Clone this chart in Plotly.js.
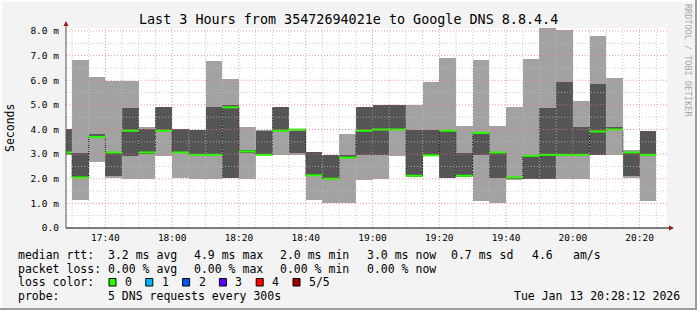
<!DOCTYPE html>
<html>
<head>
<meta charset="utf-8">
<script src="https://cdn.plot.ly/plotly-3.0.1.min.js"></script>
<style>html,body{margin:0;padding:0;background:#f3f3f3;}#chart{width:697px;height:310px;}</style>
</head>
<body>
<div id="chart"></div>
<script>
// ---- data (milliseconds) ----
const times = ["17:25","17:30","17:35","17:40","17:45","17:50","17:55",
  "18:00","18:05","18:10","18:15","18:20","18:25","18:30","18:35","18:40","18:45","18:50","18:55",
  "19:00","19:05","19:10","19:15","19:20","19:25","19:30","19:35","19:40","19:45","19:50","19:55",
  "20:00","20:05","20:10","20:15","20:20"];
const minRtt  = [2.97,1.12,2.70,2.05,2.00,2.00,2.93,2.04,2.00,2.00,2.04,2.00,2.97,2.97,2.97,1.12,1.00,1.00,1.93,2.00,2.93,2.09,2.95,2.05,2.09,1.08,1.00,1.93,2.00,2.00,2.00,2.00,2.97,2.97,2.05,1.08];
const lowRtt  = [3.00,2.05,3.69,2.12,2.93,3.00,3.95,3.07,2.97,2.97,2.04,3.04,2.97,3.95,3.04,2.14,2.00,2.85,2.97,2.97,4.00,2.09,2.95,2.05,2.09,2.97,2.05,2.00,2.00,2.00,2.97,2.97,2.97,3.99,2.12,2.97];
const medRtt  = [3.07,2.05,3.70,3.07,3.95,3.07,3.95,3.07,2.97,2.97,4.90,3.11,2.97,3.95,4.00,2.14,2.00,2.86,3.95,4.00,4.00,2.12,2.95,3.95,2.12,3.86,3.07,2.05,2.93,2.97,2.97,2.97,3.92,4.00,3.07,2.97];
const highRtt = [4.01,3.04,3.82,3.07,4.88,4.03,4.93,4.03,3.99,4.93,5.00,3.15,3.95,4.93,3.95,3.07,2.97,2.95,4.90,5.00,5.00,4.00,3.97,3.95,3.04,3.82,3.04,2.05,2.93,4.88,5.93,4.11,5.85,4.11,3.07,3.92];
const maxRtt  = [4.01,6.84,6.14,5.97,5.97,4.11,4.93,4.03,3.99,6.80,6.05,4.11,3.97,4.93,4.00,3.07,2.97,3.82,4.90,5.00,5.00,5.00,5.93,6.90,4.15,6.82,4.15,4.93,6.88,8.12,8.05,5.16,7.80,6.10,3.18,3.92];
const xTickLabels = ["17:40","18:00","18:20","18:40","19:00","19:20","19:40","20:00","20:20"];
const yTickVals = [0,1,2,3,4,5,6,7,8];
const yTickLabels = ["0.0","1.0 m","2.0 m","3.0 m","4.0 m","5.0 m","6.0 m","7.0 m","8.0 m"];
const rangeStart = "17:28:12", rangeEnd = "20:28:12";
const titleText = "Last 3 Hours from 35472694021e to Google DNS 8.8.4.4";
const rttStats = ["3.2 ms avg","4.9 ms max","2.0 ms min","3.0 ms now","0.7 ms sd","4.6","am/s"];
const lossStats = ["0.00 % avg","0.00 % max","0.00 % min","0.00 % now"];
const lossNames = ["0","1","2","3","4","5/5"];
const lossColors = ["#26ff00","#00b8ff","#0059ff","#5e00ff","#ff0000","#a00000"];
const probeText = "5 DNS requests every 300s";
const stampText = "Tue Jan 13 20:28:12 2026";

// ---- helpers ----
const STEP = 5*60*1000;
function ms(t){ const p=t.split(':').map(Number); return Date.UTC(2026,0,13,p[0],p[1],p[2]||0); }
const L=66, R=667, T=28, B=228, W=R-L, H=B-T;
const px = x => (x-L)/W, py = y => (B-y)/H;
const FONT = "DejaVu Sans Mono";
const yMax = 8.1218;

const xs = times.map(ms);
const light = {type:'bar', x:xs, base:minRtt, y:maxRtt.map((v,i)=>v-minRtt[i]), width:STEP, offset:0,
  marker:{color:'#a2a2a2', line:{width:0}}, hoverinfo:'skip'};
const dark = {type:'bar', x:xs, base:lowRtt, y:highRtt.map((v,i)=>v-lowRtt[i]), width:STEP, offset:0,
  marker:{color:'#555555', line:{width:0}}, hoverinfo:'skip'};
const stepX = xs.concat([xs[xs.length-1]+STEP]);
const stepY = medRtt.concat([medRtt[medRtt.length-1]]);
const joins = {type:'scatter', mode:'lines', x:stepX, y:stepY, line:{shape:'hv', color:'#000', width:1, dash:'1px,1px'}, hoverinfo:'skip'};
const gx=[], gy=[];
xs.forEach((x,i)=>{ gx.push(x, x+STEP, null); gy.push(medRtt[i], medRtt[i], null); });
const green = {type:'scatter', mode:'lines', x:gx, y:gy, line:{color:lossColors[0], width:2}, hoverinfo:'skip'};

// ---- grid + frame shapes ----
const shapes = [];
const x0 = ms(rangeStart), x1 = ms(rangeEnd);
for (let v=0.5; v<8.2; v+=0.5){
  const major = Math.abs(v-Math.round(v))<1e-9;
  shapes.push({type:'line', xref:'x', yref:'y', x0:x0, x1:x1, y0:v, y1:v, layer:'above',
    line:{color: major?'rgba(235,120,120,0.75)':'rgba(190,190,190,0.8)', width:1, dash:'1px,2px'}});
}
const majorX = xTickLabels.map(ms);
stepX.forEach(x=>{
  if (x<=x0 || x>=x1) return;
  const major = majorX.indexOf(x)>=0;
  shapes.push({type:'line', xref:'x', yref:'y', x0:x, x1:x, y0:0, y1:yMax, layer:'above',
    line:{color: major?'rgba(235,120,120,0.75)':'rgba(190,190,190,0.8)', width:1, dash:'1px,2px'}});
});
// axes lines and arrows
shapes.push({type:'line', xref:'paper', yref:'paper', x0:px(66), x1:px(66), y0:py(228), y1:py(24), line:{color:'#555', width:1}});
shapes.push({type:'line', xref:'paper', yref:'paper', x0:px(66), x1:px(670), y0:py(228), y1:py(228), line:{color:'#000', width:1}});
shapes.push({type:'path', xref:'paper', yref:'paper', fillcolor:'#9a1a1a', line:{width:0},
  path:`M ${px(63.5)} ${py(26)} L ${px(68.5)} ${py(26)} L ${px(66)} ${py(21)} Z`});
shapes.push({type:'path', xref:'paper', yref:'paper', fillcolor:'#9a1a1a', line:{width:0},
  path:`M ${px(669)} ${py(225.5)} L ${px(669)} ${py(230.5)} L ${px(674)} ${py(228)} Z`});
// 3D frame
shapes.push({type:'rect', xref:'paper', yref:'paper', x0:px(0), x1:px(697), y0:py(0), y1:py(2), fillcolor:'#fdfdfd', line:{width:0}});
shapes.push({type:'rect', xref:'paper', yref:'paper', x0:px(0), x1:px(2), y0:py(0), y1:py(310), fillcolor:'#fdfdfd', line:{width:0}});
shapes.push({type:'rect', xref:'paper', yref:'paper', x0:px(0), x1:px(697), y0:py(308), y1:py(310), fillcolor:'#9c9c9c', line:{width:0}});
shapes.push({type:'rect', xref:'paper', yref:'paper', x0:px(695), x1:px(697), y0:py(0), y1:py(310), fillcolor:'#9c9c9c', line:{width:0}});

// ---- legend text ----
const ann = [];
function txt(text, x, y, opts){ ann.push(Object.assign({text:text, xref:'paper', yref:'paper', x:px(x), y:py(y), xanchor:'left', yanchor:'middle',
  showarrow:false, borderpad:0, font:{family:FONT, size:11.5, color:'#000'}}, opts||{})); }
txt(titleText, 348, 19, {xanchor:'center', font:{family:FONT, size:13.4, color:'#000'}});
txt("Seconds", 10, 128, {xanchor:'center', textangle:-90});
txt("RRDTOOL / TOBI OETIKER", 688, 60, {xanchor:'center', textangle:90, font:{family:FONT, size:8.5, color:'#a8a8a8'}});
const rowY = [255, 268.5, 282, 295.5];
const colX = [107, 193, 279, 366, 450, 531, 571.5];
txt("median rtt:", 16.5, rowY[0]);
rttStats.forEach((s,i)=>txt(s, colX[i], rowY[0]));
txt("packet loss:", 16.5, rowY[1]);
lossStats.forEach((s,i)=>txt(s, colX[i], rowY[1]));
txt("loss color:", 16.5, rowY[2]);
lossNames.forEach((s,i)=>{
  const sx = 109 + i*36.8;
  shapes.push({type:'rect', xref:'paper', yref:'paper', x0:px(sx), x1:px(sx+7), y0:py(278.5), y1:py(286), fillcolor:lossColors[i], line:{color:'#000', width:1}});
  txt(s, sx+15, rowY[2]);
});
txt("probe:", 16.5, rowY[3]);
txt(probeText, 107, rowY[3]);
txt(stampText, 681, rowY[3], {xanchor:'right'});

const layout = {
  width:697, height:310, margin:{l:L, r:697-R, t:T, b:310-B, pad:0},
  paper_bgcolor:'#f3f3f3', plot_bgcolor:'#ffffff', showlegend:false, barmode:'overlay', bargap:0,
  xaxis:{type:'date', range:[x0,x1], tickvals:majorX, ticktext:xTickLabels, showgrid:false, zeroline:false, showline:false,
    ticks:'', ticklabelstandoff:2, tickfont:{family:FONT, size:9.5, color:'#000'}, fixedrange:true},
  yaxis:{range:[0,yMax], tickvals:yTickVals, ticktext:yTickLabels, showgrid:false, zeroline:false, showline:false,
    ticks:'', ticklabelstandoff:6, tickfont:{family:FONT, size:9.5, color:'#000'}, fixedrange:true},
  shapes:shapes, annotations:ann
};
Plotly.newPlot('chart', [light, dark, joins, green], layout, {staticPlot:true, displayModeBar:false});
</script>
</body>
</html>
